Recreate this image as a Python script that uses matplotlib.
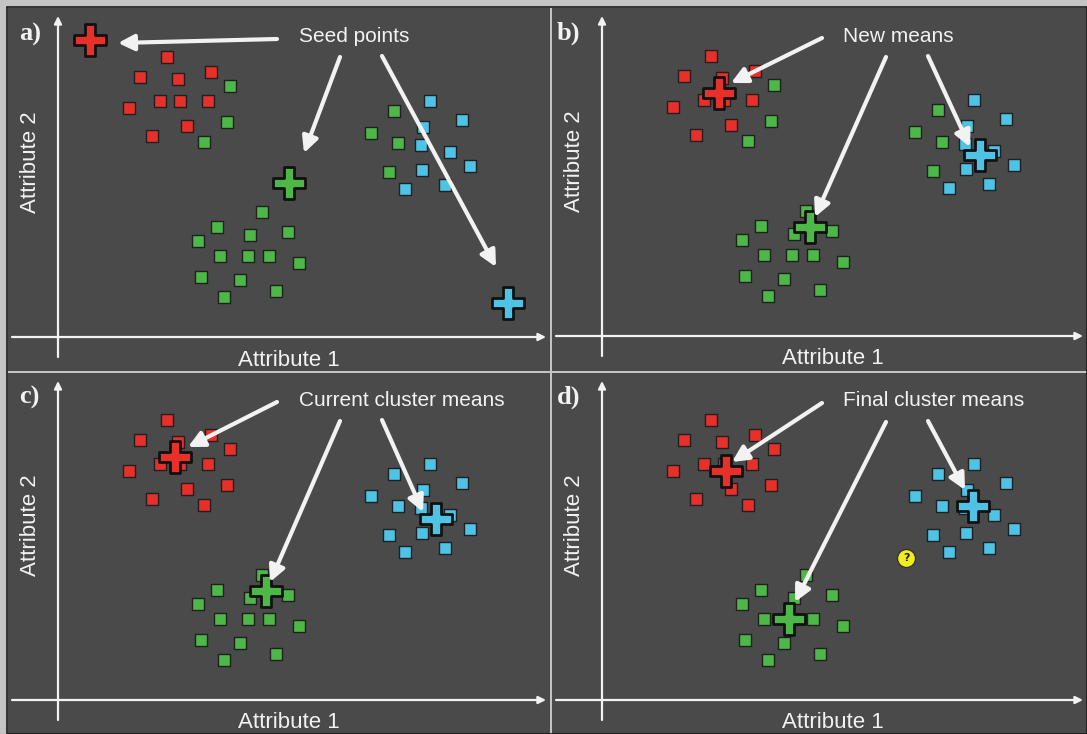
import matplotlib
matplotlib.use("Agg")
import matplotlib.pyplot as plt
from matplotlib.patches import Rectangle
from matplotlib.path import Path

# ---------------- data ----------------
# shared point layout (Attribute 1, Attribute 2), units relative to axis origin
attr1 = [109, 82, 120, 153, 71, 102, 122, 150, 129, 94,
         172, 169, 146,
         336, 313, 340, 331,
         372, 404, 365, 363, 392, 412, 364, 387, 347,
         204, 159, 192, 230, 140, 162, 190, 211, 241, 143, 182, 218, 166]
attr2 = [280, 260, 258, 265, 229, 236, 236, 236, 211, 201,
         251, 215, 195,
         226, 204, 194, 165,
         236, 217, 210, 192, 185, 171, 167, 152, 148,
         125, 110, 102, 105, 96, 81, 81, 81, 74, 60, 57, 46, 40]

# cluster assignment per panel (R red, G green, C cyan)
assign_initial = list("RRRRRRRRRR" + "GGG" + "GGGG" + "CCCCCCCCC" + "GGGGGGGGGGGGG")
assign_updated = list("RRRRRRRRRR" + "RRR" + "CCCC" + "CCCCCCCCC" + "GGGGGGGGGGGGG")

# cluster centres (red, green, cyan)
seed_x = [32, 231, 450]
seed_y = [297, 154, 34]
mean_x = [117, 208, 378]
mean_y = [243, 109, 181]
final_x = [124, 187, 371]
final_y = [229, 81, 194]

# unassigned point in panel d
question_x = [304]
question_y = [142]

panel_letters = ["a)", "b)", "c)", "d)"]
panel_titles = ["Seed points", "New means", "Current cluster means", "Final cluster means"]

# callout arrows (start -> tip) per panel
callouts = [
    [((219, 298), (60, 294)), ((282, 280), (246, 184)), ((324, 281), (438, 70))],
    [((220, 298), (129, 253)), ((284, 279), (213, 119)), ((326, 280), (368, 189))],
    [((219, 298), (130, 253)), ((282, 279), (212, 118)), ((324, 280), (365, 188))],
    [((220, 297), (130, 238)), ((284, 278), (193, 98)), ((326, 279), (363, 210))],
]

# ---------------- style ----------------
W, H = 1087, 734
BG = "#c4c4c4"
PANEL = "#4a4a4a"
WHITE = "#f2f2f2"
COLORS = {"R": "#e8302a", "G": "#4db848", "C": "#4ec3e6"}
CENTER_COLORS = [COLORS["R"], COLORS["G"], COLORS["C"]]

# plus marker with slightly slimmer arms
a = 0.145
plus_verts = [(-a, -0.5), (-a, -a), (-0.5, -a), (-0.5, a), (-a, a), (-a, 0.5),
              (a, 0.5), (a, a), (0.5, a), (0.5, -a), (a, -a), (a, -0.5), (-a, -0.5)]
PLUS = Path(plus_verts, closed=True)

fig = plt.figure(figsize=(W / 100, H / 100), dpi=100, facecolor=BG)

# panel boxes in pixel coords: (left, top, right, bottom), origin pixel
panels = [
    ((8, 8, 550, 371), (58, 337)),
    ((552, 8, 1087, 371), (602, 336)),
    ((8, 373, 550, 734), (58, 700)),
    ((552, 373, 1087, 734), (602, 700)),
]

fig.patches.append(Rectangle((7 / W, 0), 1 - 7 / W, 1 - 7 / H, transform=fig.transFigure,
                             facecolor="none", edgecolor="#1a1a1a", lw=1.2, zorder=0))

centres = [(seed_x, seed_y), (mean_x, mean_y), (mean_x, mean_y), (final_x, final_y)]
assigns = [assign_initial, assign_initial, assign_updated, assign_updated]
label_x = [-39, -45, -39, -45]

for i, ((l, t, r, b), (ox, oy)) in enumerate(panels):
    ax = fig.add_axes([l / W, 1 - b / H, (r - l) / W, (b - t) / H])
    ax.set_facecolor(PANEL)
    ax.set_xlim(l - ox, r - ox)
    ax.set_ylim(oy - b, oy - t)
    for s in ax.spines.values():
        s.set_visible(False)
    ax.set_xticks([])
    ax.set_yticks([])

    # axes arrows
    ax.annotate("", xy=(r - ox - 4, 0), xytext=(-46, 0),
                arrowprops=dict(arrowstyle="-|>", color=WHITE, lw=1.6,
                                mutation_scale=11, shrinkA=0, shrinkB=0))
    ax.annotate("", xy=(0, oy - t - 8), xytext=(0, -20),
                arrowprops=dict(arrowstyle="-|>", color=WHITE, lw=1.6,
                                mutation_scale=11, shrinkA=0, shrinkB=0))

    # points
    cols = [COLORS[c] for c in assigns[i]]
    ax.scatter(attr1, attr2, marker="s", s=9.0 ** 2, c=cols,
               edgecolors="#202020", linewidths=1.0, zorder=3)

    # centres
    cx, cy = centres[i]
    ax.scatter(cx, cy, marker=PLUS, s=23 ** 2, c=CENTER_COLORS,
               edgecolors="#111111", linewidths=2.0, zorder=4)

    # callout arrows
    for (sx, sy), (tx, ty) in callouts[i]:
        ax.annotate("", xy=(tx, ty), xytext=(sx, sy),
                    arrowprops=dict(arrowstyle="-|>", color=WHITE, lw=3.0,
                                    mutation_scale=24, shrinkA=0, shrinkB=0),
                    zorder=5)

    ax.text(241, 300, panel_titles[i], color=WHITE, fontsize=15,
            family="Liberation Sans", ha="left", va="center", zorder=6)
    ax.text(231, -23, "Attribute 1", color=WHITE, fontsize=16,
            family="Liberation Sans", ha="center", va="center")
    ax.text(-28, 175, "Attribute 2", color=WHITE, fontsize=16, rotation=90,
            family="Liberation Sans", ha="center", va="center")
    ax.text(label_x[i], 303, panel_letters[i], color=WHITE, fontsize=19,
            family="Liberation Serif", fontweight="bold", ha="left", va="center")

    if i == 3:
        ax.scatter(question_x, question_y, marker="o", s=13 ** 2, c="#f2ee1a",
                   edgecolors="#333333", linewidths=1.0, zorder=4)
        for qx, qy in zip(question_x, question_y):
            ax.text(qx, qy, "?", color="#222222", fontsize=8, fontweight="bold",
                    ha="center", va="center", zorder=5)

fig.savefig("out.png", dpi=100, facecolor=BG)
